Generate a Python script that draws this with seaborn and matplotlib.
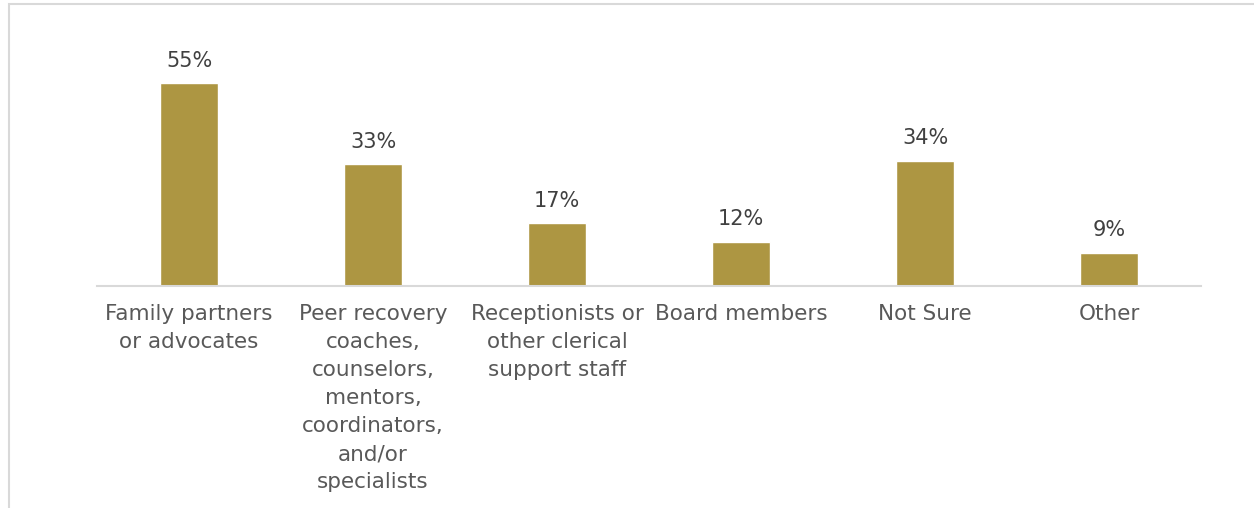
import matplotlib
matplotlib.use("Agg")
import matplotlib.pyplot as plt
import seaborn as sns
import pandas as pd
from matplotlib.patches import Rectangle

categories = [
    "Family partners\nor advocates",
    "Peer recovery\ncoaches,\ncounselors,\nmentors,\ncoordinators,\nand/or\nspecialists",
    "Receptionists or\nother clerical\nsupport staff",
    "Board members",
    "Not Sure",
    "Other",
]
values = [55, 33, 17, 12, 34, 9]

sns.set_theme(style="white")
plt.rcParams["font.family"] = ["DejaVu Sans"]

df = pd.DataFrame({"role": categories, "pct": values})

fig = plt.figure(figsize=(12.54, 5.08), dpi=100)
ax = fig.add_axes([97 / 1254, 222 / 508, 1104 / 1254, 221 / 508])

sns.barplot(data=df, x="role", y="pct", color="#AD9642", saturation=1,
            width=0.31, ax=ax)

ax.set_xlim(-0.5, len(categories) - 0.5)
ax.set_ylim(0, 60)
ax.bar_label(ax.containers[0], fmt="{:.0f}%", padding=9,
             fontsize=15, color="#404040")

ax.set_xlabel("")
ax.set_ylabel("")
ax.set_yticks([])
ax.tick_params(axis="x", length=0, pad=13, labelsize=15.5, labelcolor="#595959")
for lbl in ax.get_xticklabels():
    lbl.set_linespacing(1.5)
    lbl.set_verticalalignment("top")

for side in ["left", "right", "top"]:
    ax.spines[side].set_visible(False)
ax.spines["bottom"].set_color("#D9D9D9")
ax.spines["bottom"].set_linewidth(1.5)

# chart frame
fig.patches.append(Rectangle((9 / 1254, -0.1), 1.2, (508 - 4) / 508 + 0.1,
                             transform=fig.transFigure, fill=False,
                             edgecolor="#D9D9D9", linewidth=1.5))

fig.savefig("out.png", dpi=100)
